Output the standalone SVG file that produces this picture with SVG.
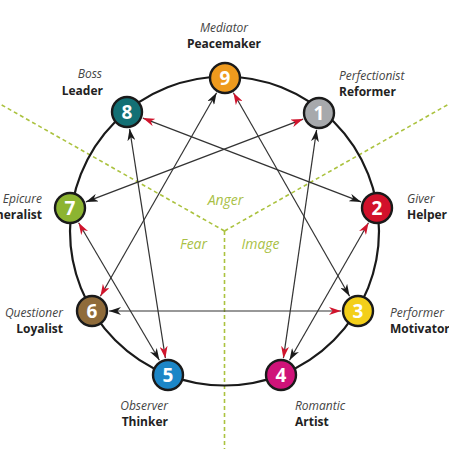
<svg xmlns="http://www.w3.org/2000/svg" width="449" height="449" viewBox="0 0 449 449">
<style>
.bg{fill:#ffffff}
.ring{fill:none;stroke:#1a1a1a;stroke-width:2.2}
.div{fill:none;stroke:#abc23f;stroke-width:1.6;stroke-dasharray:4 3}
.zone{font-family:"Open Sans","Noto Sans",sans-serif;font-style:italic;font-size:14px;fill:#a9bf45}
.con{fill:none;stroke:#333333;stroke-width:1.2}
.nd{stroke:#1a1a1a;stroke-width:2.4}
.num{font-family:"Open Sans","Noto Sans",sans-serif;font-weight:bold;font-size:19px;fill:#ffffff;text-anchor:middle}
.it{font-family:"Open Sans","Noto Sans",sans-serif;font-style:italic;font-size:12px;fill:#444444}
.bd{font-family:"Open Sans","Noto Sans",sans-serif;font-weight:bold;font-size:12px;fill:#222222}
.e{text-anchor:end}
.m{text-anchor:middle}
</style>
<defs>
<marker id="ar" viewBox="0 0 12 8" refX="12" refY="4" markerWidth="12" markerHeight="8" markerUnits="userSpaceOnUse" orient="auto-start-reverse">
<path d="M0,0 L12,4 L0,8 L3.5,4 z" fill="#d0142c"/>
</marker>
<marker id="ab" viewBox="0 0 12 8" refX="12" refY="4" markerWidth="12" markerHeight="8" markerUnits="userSpaceOnUse" orient="auto-start-reverse">
<path d="M0,0 L12,4 L0,8 L3.5,4 z" fill="#1a1a1a"/>
</marker>
</defs>
<rect class="bg" x="0" y="0" width="449" height="449"/>
<g id="dividers">
<line class="div" x1="224.5" y1="231" x2="0" y2="104"/>
<line class="div" x1="224.5" y1="231" x2="449" y2="104"/>
<line class="div" x1="224.5" y1="231" x2="224.5" y2="449"/>
<text class="zone m" x="225.5" y="205">Anger</text>
<text class="zone m" x="193.5" y="249">Fear</text>
<text class="zone m" x="260.5" y="249">Image</text>
</g>
<circle class="ring" cx="224.5" cy="231" r="154.5"/>
<g id="connectors">
<line class="con" x1="142.9" y1="118.1" x2="361.1" y2="201.9" marker-start="url(#ar)" marker-end="url(#ab)"/>
<line class="con" x1="85.9" y1="201.9" x2="303.1" y2="119.1" marker-start="url(#ab)" marker-end="url(#ar)"/>
<line class="con" x1="129.6" y1="128.8" x2="165.4" y2="358.2" marker-start="url(#ab)" marker-end="url(#ar)"/>
<line class="con" x1="216.6" y1="92.8" x2="100.4" y2="296.2" marker-start="url(#ab)" marker-end="url(#ar)"/>
<line class="con" x1="233.4" y1="92.8" x2="349.6" y2="296.2" marker-start="url(#ar)" marker-end="url(#ab)"/>
<line class="con" x1="316.6" y1="129.8" x2="283.4" y2="358.2" marker-start="url(#ab)" marker-end="url(#ar)"/>
<line class="con" x1="368.5" y1="222.7" x2="289.5" y2="360.3" marker-start="url(#ar)" marker-end="url(#ab)"/>
<line class="con" x1="78.6" y1="222.7" x2="159.4" y2="360.3" marker-start="url(#ar)" marker-end="url(#ab)"/>
<line class="con" x1="109" y1="311" x2="341" y2="311" marker-start="url(#ab)" marker-end="url(#ar)"/>
</g>
<g id="n9">
<circle class="nd" cx="225" cy="78" r="15" fill="#ee9a1e"/>
<text class="num" x="225" y="85">9</text>
<text class="it m" x="224" y="32">Mediator</text>
<text class="bd m" x="224" y="48">Peacemaker</text>
</g>
<g id="n1">
<circle class="nd" cx="319" cy="113" r="15" fill="#a7a9ac"/>
<text class="num" x="319" y="120">1</text>
<text class="it" x="339" y="80">Perfectionist</text>
<text class="bd" x="339" y="96">Reformer</text>
</g>
<g id="n2">
<circle class="nd" cx="377" cy="208" r="15" fill="#d2112b"/>
<text class="num" x="377" y="215">2</text>
<text class="it" x="407" y="203">Giver</text>
<text class="bd" x="407" y="219">Helper</text>
</g>
<g id="n3">
<circle class="nd" cx="358" cy="311" r="15" fill="#f3cf1a"/>
<text class="num" x="358" y="318">3</text>
<text class="it" x="390" y="317">Performer</text>
<text class="bd" x="390" y="333">Motivator</text>
</g>
<g id="n4">
<circle class="nd" cx="281" cy="375" r="15" fill="#cf1379"/>
<text class="num" x="281" y="382">4</text>
<text class="it" x="295" y="410">Romantic</text>
<text class="bd" x="295" y="426">Artist</text>
</g>
<g id="n5">
<circle class="nd" cx="168" cy="375" r="15" fill="#1c86c7"/>
<text class="num" x="168" y="382">5</text>
<text class="it e" x="168" y="410">Observer</text>
<text class="bd e" x="168" y="426">Thinker</text>
</g>
<g id="n6">
<circle class="nd" cx="92" cy="311" r="15" fill="#8f6b3a"/>
<text class="num" x="92" y="318">6</text>
<text class="it e" x="63" y="317">Questioner</text>
<text class="bd e" x="63" y="333">Loyalist</text>
</g>
<g id="n7">
<circle class="nd" cx="70" cy="208" r="15" fill="#8cb431"/>
<text class="num" x="70" y="215">7</text>
<text class="it e" x="42" y="203">Epicure</text>
<text class="bd e" x="42" y="219">Generalist</text>
</g>
<g id="n8">
<circle class="nd" cx="127" cy="112" r="15" fill="#137074"/>
<text class="num" x="127" y="119">8</text>
<text class="it e" x="102" y="78">Boss</text>
<text class="bd e" x="103" y="95">Leader</text>
</g>
</svg>
